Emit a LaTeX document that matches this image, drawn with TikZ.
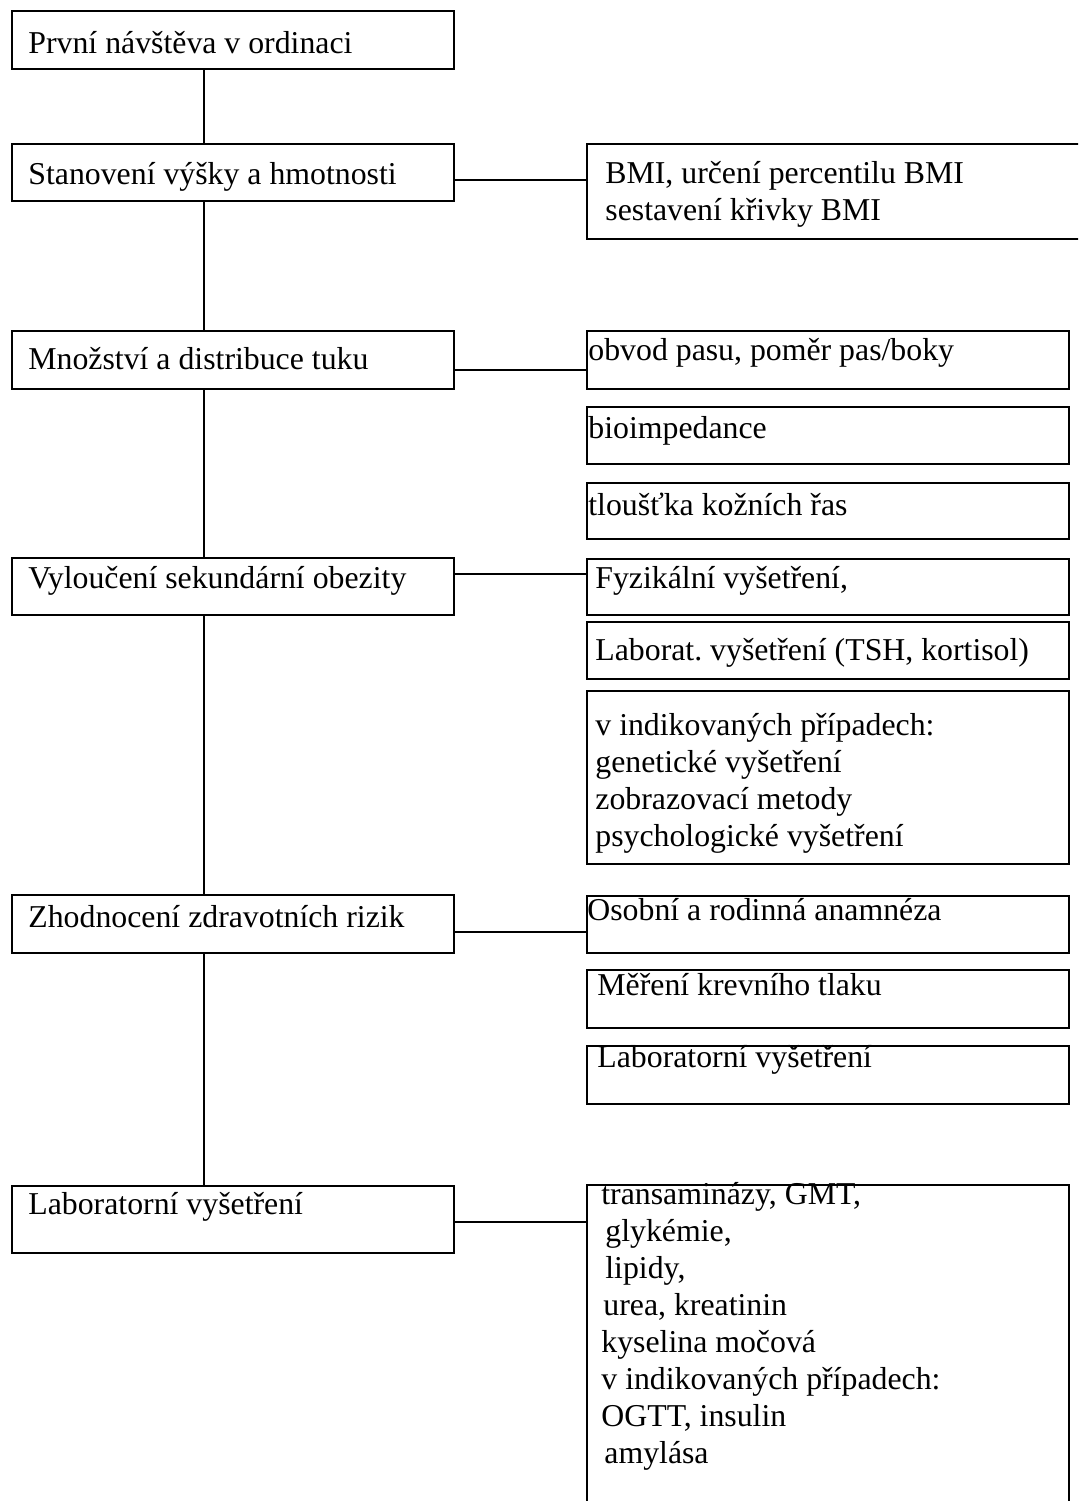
\documentclass[tikz,border=0pt]{standalone}
\usepackage{fontspec}
\setmainfont{Liberation Serif}
\usetikzlibrary{positioning}
\frenchspacing
\newcommand{\px}{0.5pt}
\tikzset{
  stagebox/.style={
    rectangle, draw=black, line width=0.9pt,
    minimum width=442*\px, minimum height=#1*\px,
    anchor=north west, inner sep=0pt
  },
  stagebox/.default=58,
  findbox/.style={
    rectangle, draw=black, line width=1.1pt,
    minimum width=482*\px, minimum height=#1*\px,
    anchor=north west, inner sep=0pt
  },
  findbox/.default=57,
  % base west = baseline of the last line
  boxtext/.style={
    anchor=base west, inner sep=0pt, align=left,
    font=\fontsize{15.9pt}{18.45pt}\selectfont
  },
  link/.style={line width=1pt, draw=black},
}
\begin{document}
\begin{tikzpicture}[x=\px, y=-\px]
    \clip (0,0) rectangle (1078,1501);

    % Main steps (left column)
    \node[stagebox=58] (l1) at (11,10) {};
    \node[stagebox=57] (l2) at (11,143) {};
    \node[stagebox=58] (l3) at (11,330) {};
    \node[stagebox=57] (l4) at (11,557) {};
    \node[stagebox=58] (l5) at (11,894) {};
    \node[stagebox=67] (l6) at (11,1185) {};
    \node[boxtext] (l1t) at (28,53) {První návštěva v ordinaci};
    \node[boxtext] (l2t) at (28,184) {Stanovení výšky a hmotnosti};
    \node[boxtext] (l3t) at (28,369) {Množství a distribuce tuku};
    \node[boxtext] (l4t) at (28,588) {Vyloučení sekundární obezity};
    \node[boxtext] (l5t) at (28,927) {Zhodnocení zdravotních rizik};
    \node[boxtext] (l6t) at (28,1214) {Laboratorní vyšetření};

    % Details (right column)
    \node[findbox=95, minimum width=520*\px] (r2) at (586,143) {};
    \node[findbox=58] (r3a) at (586,330) {};
    \node[findbox=57] (r3b) at (586,406) {};
    \node[findbox=56] (r3c) at (586,482) {};
    \node[findbox=56] (r4a) at (586,558) {};
    \node[findbox=57] (r4b) at (586,621) {};
    \node[findbox=173] (r4c) at (586,690) {};
    \node[findbox=57] (r5a) at (586,895) {};
    \node[findbox=58] (r5b) at (586,969) {};
    \node[findbox=58] (r5c) at (586,1045) {};
    \node[findbox=360] (r6) at (586,1184) {};
    \node[boxtext] (r2t) at (605,220) {BMI, určení percentilu BMI\\sestavení křivky BMI};
    \node[boxtext] (r3at) at (588,360) {obvod pasu, poměr pas/boky};
    \node[boxtext] (r3bt) at (588,438) {bioimpedance};
    \node[boxtext] (r3ct) at (588,515) {tloušťka kožních řas};
    \node[boxtext] (r4at) at (595,588) {Fyzikální vyšetření,};
    \node[boxtext] (r4bt) at (595,660) {Laborat. vyšetření (TSH, kortisol)};
    \node[boxtext] (r4ct) at (595,846) {v indikovaných případech:\\genetické vyšetření\\zobrazovací metody\\psychologické vyšetření};
    \node[boxtext] (r5at) at (587,920) {Osobní a rodinná anamnéza};
    \node[boxtext] (r5bt) at (597,995) {Měření krevního tlaku};
    \node[boxtext] (r5ct) at (597,1067) {Laboratorní vyšetření};
    \node[boxtext] (r6t) at (601,1463) {transaminázy, GMT,\\
      \hspace{2pt}glykémie,\\
      \hspace{2pt}lipidy,\\
      \hspace{1pt}urea, kreatinin\\
      kyselina močová\\
      v indikovaných případech:\\
      OGTT, insulin\\
      \hspace{1.5pt}amylása};

    % Spine between the steps
    \foreach \a/\b in {l1/l2, l2/l3, l3/l4, l4/l5, l5/l6}
      \draw[link] ([xshift=-29*\px]\a.south) -- ([xshift=-29*\px]\b.north);

    % Side links
    \draw[link] (l2.east |- 0,180) -- (r2.west |- 0,180);
    \draw[link] (l3.east |- 0,370) -- (r3a.west |- 0,370);
    \draw[link] (l4.east |- 0,574) -- (r4a.west |- 0,574);
    \draw[link] (l5.east |- 0,932) -- (r5a.west |- 0,932);
    \draw[link] (l6.east |- 0,1222) -- (r6.west |- 0,1222);
\end{tikzpicture}
\end{document}
